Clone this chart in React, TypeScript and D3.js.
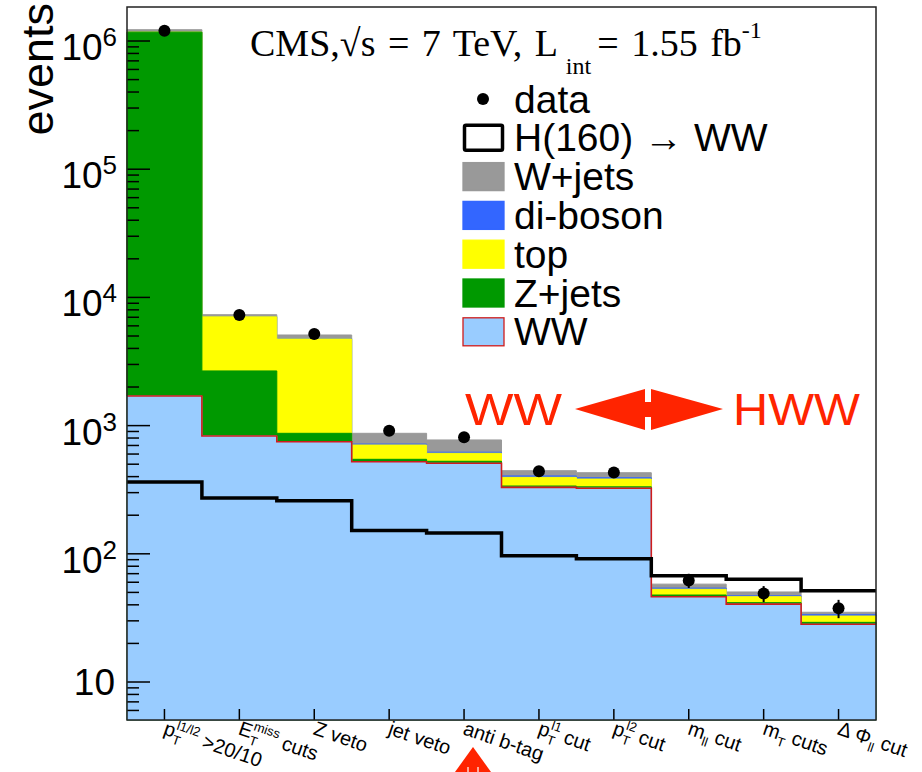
import React from "react";
import * as d3 from "d3";

// Selection cut flow: one bin per cut, labels in ROOT TLatex notation
const categories = [
  "p_{T}^{l1/l2} >20/10",
  "E_{T}^{miss} cuts",
  "Z veto",
  "jet veto",
  "anti b-tag",
  "p_{T}^{l1} cut",
  "p_{T}^{l2} cut",
  "m_{ll} cut",
  "m_{T} cuts",
  "#Delta #Phi_{ll} cut",
];

// Expected events per process (stacked bottom to top: WW, Z+jets, top, di-boson, W+jets)
const wwValues = [1700, 830, 748, 523, 508, 330, 325, 46.3, 40.5, 28.2];
const zjetsValues = [1170000, 1840, 123, 23, 19, 8, 8, 1.4, 1.1, 1.0];
const topValues = [3000, 4390, 3870, 160, 81, 57, 50, 5.2, 4.7, 3.5];
const dibosonValues = [150, 30, 30, 12, 12, 10, 9, 1.1, 0.7, 0.8];
const wjetsValues = [50000, 240, 320, 153, 153, 40, 37, 4, 3.4, 1.5];

// Signal hypothesis H(160) -> WW, drawn as a line
const higgsValues = [363, 272, 259, 152, 145, 96.5, 91.6, 67.5, 63.2, 51.5];

// Observed events
const dataValues = [1200000, 7300, 5190, 912, 811, 440, 430, 62, 49, 37.6];

// Y axis decades that carry a label
const yTickExponents = [1, 2, 3, 4, 5, 6];

const legendLabels = ["data", "H(160) \u2192 WW", "W+jets", "di-boson", "top", "Z+jets", "WW"];

const W = 922;
const H = 772;
const M = { left: 127, right: 876, top: 7, bottom: 720 };

const COLORS = {
  ww: "#99ccff",
  wwLine: "#d01c1c",
  zjets: "#009900",
  top: "#ffff00",
  diboson: "#3366ff",
  wjets: "#999999",
  red: "#ff2400",
};

const SANS = "'Liberation Sans', Arial, Helvetica, sans-serif";
const SERIF = "'Liberation Serif', 'Times New Roman', serif";

const greek: Record<string, string> = { Delta: "\u0394", Phi: "\u03a6" };

type Seg = { text: string; kind: "n" | "sub" | "sup" };

// Minimal TLatex reader: _{..} subscripts, ^{..} superscripts, #Greek names
function parseLatex(s: string): Seg[] {
  const out: Seg[] = [];
  let buf = "";
  let i = 0;
  const flush = () => {
    if (buf) out.push({ text: buf, kind: "n" });
    buf = "";
  };
  while (i < s.length) {
    const ch = s[i];
    if ((ch === "_" || ch === "^") && s[i + 1] === "{") {
      flush();
      const end = s.indexOf("}", i);
      out.push({ text: s.slice(i + 2, end), kind: ch === "_" ? "sub" : "sup" });
      i = end + 1;
    } else if (ch === "#") {
      const m = /^#([A-Za-z]+)/.exec(s.slice(i));
      const name = m ? m[1] : "";
      buf += greek[name] ?? name;
      i += name.length + 1;
    } else {
      buf += ch;
      i++;
    }
  }
  flush();
  return out;
}

function LatexLabel({ src, size }: { src: string; size: number }) {
  const segs = parseLatex(src);
  const small = size * 0.65;
  let cur = 0;
  return (
    <>
      {segs.map((s, i) => {
        const target = s.kind === "sub" ? size * 0.3 : s.kind === "sup" ? -size * 0.45 : 0;
        const dy = target - cur;
        cur = target;
        const prev = segs[i - 1];
        const dx = s.kind === "sup" && prev && prev.kind === "sub" ? -prev.text.length * small * 0.6 : 0;
        return (
          <tspan key={i} dy={dy} dx={dx} fontSize={s.kind === "n" ? size : small}>
            {s.text}
          </tspan>
        );
      })}
    </>
  );
}

export default function App() {
  const x = d3.scaleBand<string>().domain(categories).range([M.left, M.right]).padding(0);
  const y = d3.scaleLog().domain([5.054, 1.842e6]).range([M.bottom, M.top]);
  const bw = x.bandwidth();

  // cumulative stack layers, bottom to top
  const layers = [
    { key: "ww", values: wwValues, fill: COLORS.ww },
    { key: "zjets", values: zjetsValues, fill: COLORS.zjets },
    { key: "top", values: topValues, fill: COLORS.top },
    { key: "diboson", values: dibosonValues, fill: COLORS.diboson },
    { key: "wjets", values: wjetsValues, fill: COLORS.wjets },
  ];
  const cumulative: number[][] = [];
  layers.forEach((l, li) => {
    cumulative.push(l.values.map((v, i) => v + (li > 0 ? cumulative[li - 1][i] : 0)));
  });

  const stepPoints = (vals: number[]) =>
    vals.flatMap((v, i) => {
      const x0 = x(categories[i])!;
      return [
        [x0, y(v)] as [number, number],
        [x0 + bw, y(v)] as [number, number],
      ];
    });
  const area = d3
    .area<[number, number]>()
    .x((d) => d[0])
    .y0(M.bottom)
    .y1((d) => d[1]);
  const line = d3.line<[number, number]>().x((d) => d[0]).y((d) => d[1]);

  // y ticks
  const [ymin, ymax] = y.domain();
  const minorTicks: number[] = [];
  for (let k = 0; k <= 6; k++) {
    for (let m = 2; m <= 9; m++) {
      const v = m * Math.pow(10, k);
      if (v >= ymin && v <= ymax) minorTicks.push(v);
    }
  }

  const legendX = 463;
  const legendRow0 = 99;
  const legendStep = 38.8;

  return (
    <svg width={W} height={H} style={{ display: "block", position: "absolute", left: 0, top: 0 }}>
      <rect x={0} y={0} width={W} height={H} fill="#ffffff" />

      {/* stacked backgrounds, drawn from the total down */}
      {[...layers.keys()].reverse().map((li) => (
        <path
          key={layers[li].key}
          d={area(stepPoints(cumulative[li]))!}
          fill={layers[li].fill}
          stroke={layers[li].fill}
          strokeWidth={1}
        />
      ))}
      {/* WW outline */}
      <path d={line(stepPoints(wwValues))!} fill="none" stroke={COLORS.wwLine} strokeWidth={1.6} />

      {/* signal */}
      <path d={line(stepPoints(higgsValues))!} fill="none" stroke="#000" strokeWidth={3.5} />

      {/* data with Poisson errors */}
      {dataValues.map((v, i) => {
        const cx = x(categories[i])! + bw / 2;
        const e = Math.sqrt(v);
        return (
          <g key={i}>
            <line x1={cx} x2={cx} y1={y(v - e)} y2={y(v + e)} stroke="#000" strokeWidth={2} />
            <circle cx={cx} cy={y(v)} r={6} fill="#000" />
          </g>
        );
      })}

      {/* y axis ticks */}
      {yTickExponents.map((k) => {
        const yy = y(Math.pow(10, k));
        return <line key={"M" + k} x1={M.left} x2={M.left + 23} y1={yy} y2={yy} stroke="#000" strokeWidth={1.5} />;
      })}
      {minorTicks.map((v) => (
        <line key={"m" + v} x1={M.left} x2={M.left + 12} y1={y(v)} y2={y(v)} stroke="#000" strokeWidth={1.5} />
      ))}
      {/* x axis ticks */}
      {categories.map((c) => {
        const cx = x(c)! + bw / 2;
        return <line key={c} x1={cx} x2={cx} y1={M.bottom} y2={M.bottom - 11} stroke="#000" strokeWidth={1.5} />;
      })}

      {/* frame */}
      <rect
        x={M.left}
        y={M.top}
        width={M.right - M.left}
        height={M.bottom - M.top}
        fill="none"
        stroke="#222"
        strokeWidth={1.5}
      />

      {/* y tick labels */}
      {yTickExponents.map((k) => {
        const yy = y(Math.pow(10, k));
        if (k === 1) {
          return (
            <text key={k} x={115} y={yy + 13} textAnchor="end" fontFamily={SANS} fontSize={37} fill="#000">
              10
            </text>
          );
        }
        return (
          <text key={k} x={117} y={yy + 19} textAnchor="end" fontFamily={SANS} fontSize={37} fill="#000">
            10
            <tspan dy={-14} fontSize={26}>
              {k}
            </tspan>
          </text>
        );
      })}

      {/* y axis title */}
      <text
        transform="translate(53,3) rotate(-90)"
        textAnchor="end"
        fontFamily={SANS}
        fontSize={45}
        fill="#000"
      >
        events
      </text>

      {/* x labels */}
      {categories.map((c) => {
        const cx = x(c)! + bw / 2;
        return (
          <text
            key={c}
            transform={`translate(${cx - 2},734) rotate(19)`}
            fontFamily={SANS}
            fontSize={20}
            fill="#000"
          >
            <LatexLabel src={c} size={20} />
          </text>
        );
      })}

      {/* title */}
      <text y={56} fontFamily={SERIF} fontSize={38} fill="#000" wordSpacing={3}>
        <tspan x={250}>CMS,</tspan>
        <tspan>{"\u221a"}</tspan>
        <tspan>s = 7 TeV, L</tspan>
        <tspan dy={18} fontSize={24} dx={8}>
          int
        </tspan>
        <tspan dy={-18} dx={6}>
          = 1.55 fb
        </tspan>
        <tspan dy={-18} fontSize={24}>
          -1
        </tspan>
      </text>

      {/* legend */}
      {legendLabels.map((label, i) => {
        const cy = legendRow0 + i * legendStep;
        let marker: React.ReactNode = null;
        if (i === 0) marker = <circle cx={legendX + 20} cy={cy} r={6} fill="#000" />;
        else if (i === 1)
          marker = (
            <rect x={legendX + 1.5} y={cy - 12.5} width={38} height={25} fill="none" stroke="#000" strokeWidth={3.5} rx={1.5} />
          );
        else {
          const fills = [COLORS.wjets, COLORS.diboson, COLORS.top, COLORS.zjets, COLORS.ww];
          const f = fills[i - 2];
          marker = (
            <rect
              x={legendX}
              y={cy - 14}
              width={41}
              height={28}
              fill={f}
              stroke={i === 6 ? COLORS.wwLine : f}
              strokeWidth={1.3}
            />
          );
        }
        return (
          <g key={label}>
            {marker}
            <text x={514} y={cy + 13.5} fontFamily={SANS} fontSize={39} fill="#000">
              {label}
            </text>
          </g>
        );
      })}

      {/* WW / HWW region annotation */}
      <text x={465} y={425} fontFamily={SANS} fontSize={45} fill={COLORS.red} textLength={97} lengthAdjust="spacingAndGlyphs">
        WW
      </text>
      <text x={733} y={425} fontFamily={SANS} fontSize={45} fill={COLORS.red} textLength={127} lengthAdjust="spacingAndGlyphs">
        HWW
      </text>
      <polygon
        points="575,409 645,389 645,402 651,402 651,389 723,409 651,430 651,417 645,417 645,430"
        fill={COLORS.red}
      />
      <polygon points="473,747 491,772 455,772" fill={COLORS.red} />
      <line x1={468} x2={468} y1={767} y2={772} stroke="#fff" strokeWidth={1.2} />
      <line x1={478} x2={478} y1={767} y2={772} stroke="#fff" strokeWidth={1.2} />
    </svg>
  );
}
